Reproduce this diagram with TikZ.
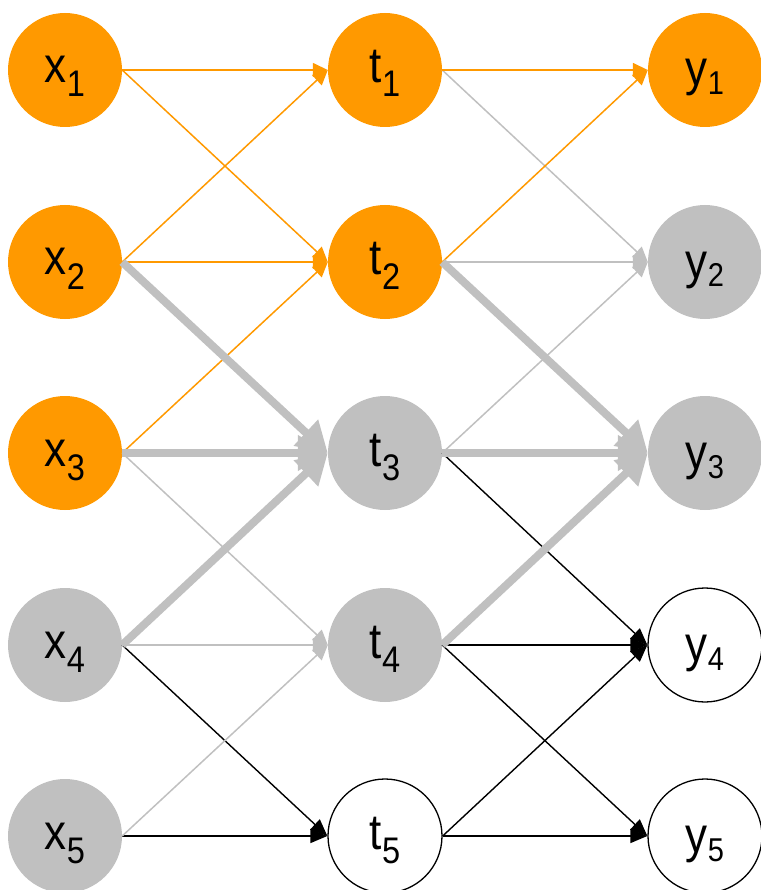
\documentclass[tikz,border=0pt]{standalone}
\usepackage{fontspec}
\usetikzlibrary{arrows.meta}
\newfontfamily\lblfont[FakeStretch=0.88]{Liberation Sans}
\definecolor{hiorange}{HTML}{FF9900}
\definecolor{midgray}{HTML}{C0C0C0}
% subscripts for the unit labels
\newcommand\sub[1]{\raisebox{-14pt}{\fontsize{37}{37}\selectfont #1}}
\newcommand\ysub[1]{\raisebox{-9pt}{\fontsize{33}{33}\selectfont #1}}
\tikzset{
  unit/.style={circle, minimum size=114pt, inner sep=0pt,
    font=\lblfont\fontsize{50}{50}\selectfont, text height=40pt, text depth=14pt},
  yunit/.style={unit, text height=44pt, text depth=12pt},
  actnode/.style={fill=hiorange},
  grynode/.style={fill=midgray},
  empnode/.style={draw=black, line width=1.3pt, fill=white},
  oedge/.style={draw=hiorange, line width=1.5pt, -{Triangle[length=15pt,width=14pt]}},
  gedge/.style={draw=midgray, line width=1.5pt, -{Triangle[length=15pt,width=14pt]}},
  bedge/.style={draw=black, line width=1.4pt, -{Triangle[length=17pt,width=14pt]}},
  fatedge/.style={draw=midgray, line width=8pt, -{Triangle[length=30pt,width=34pt]}},
}
\begin{document}
\begin{tikzpicture}[x=1pt,y=-1pt]
\useasboundingbox (0,0) rectangle (760,890);
% input layer
\node[unit,actnode] (x1) at (65,70)  {x\sub{1}};
\node[unit,actnode] (x2) at (65,262) {x\sub{2}};
\node[unit,actnode] (x3) at (65,453) {x\sub{3}};
\node[unit,grynode] (x4) at (65,645) {x\sub{4}};
\node[unit,grynode] (x5) at (65,836) {x\sub{5}};
% hidden layer
\node[unit,actnode] (t1) at (385,70)  {t\sub{1}};
\node[unit,actnode] (t2) at (385,262) {t\sub{2}};
\node[unit,grynode] (t3) at (385,453) {t\sub{3}};
\node[unit,grynode] (t4) at (385,645) {t\sub{4}};
\node[unit,empnode] (t5) at (385,836) {t\sub{5}};
% output layer
\node[yunit,actnode] (y1) at (705,70)  {y\ysub{1}};
\node[yunit,grynode] (y2) at (705,262) {y\ysub{2}};
\node[yunit,grynode] (y3) at (705,453) {y\ysub{3}};
\node[yunit,empnode] (y4) at (705,645) {y\ysub{4}};
\node[yunit,empnode] (y5) at (705,836) {y\ysub{5}};
% black connections
\draw[bedge] (x4.east) -- (t5.west);
\draw[bedge] (x5.east) -- (t5.west);
\draw[bedge] (t3.east) -- (y4.west);
\draw[bedge] (t4.east) -- (y4.west);
\draw[bedge] (t4.east) -- (y5.west);
\draw[bedge] (t5.east) -- (y4.west);
\draw[bedge] (t5.east) -- (y5.west);
% thin gray connections
\draw[gedge] (x3.east) -- (t4.west);
\draw[gedge] (x4.east) -- (t4.west);
\draw[gedge] (x5.east) -- (t4.west);
\draw[gedge] (t1.east) -- (y2.west);
\draw[gedge] (t2.east) -- (y2.west);
\draw[gedge] (t3.east) -- (y2.west);
% orange connections
\draw[oedge] (x1.east) -- (t1.west);
\draw[oedge] (x1.east) -- (t2.west);
\draw[oedge] (x2.east) -- (t1.west);
\draw[oedge] (x2.east) -- (t2.west);
\draw[oedge] (x3.east) -- (t2.west);
\draw[oedge] (t1.east) -- (y1.west);
\draw[oedge] (t2.east) -- (y1.west);
% heavy gray connections
\draw[fatedge] (x2.east) -- (t3.west);
\draw[fatedge] (x3.east) -- (t3.west);
\draw[fatedge] (x4.east) -- (t3.west);
\draw[fatedge] (t2.east) -- (y3.west);
\draw[fatedge] (t3.east) -- (y3.west);
\draw[fatedge] (t4.east) -- (y3.west);
\end{tikzpicture}
\end{document}
